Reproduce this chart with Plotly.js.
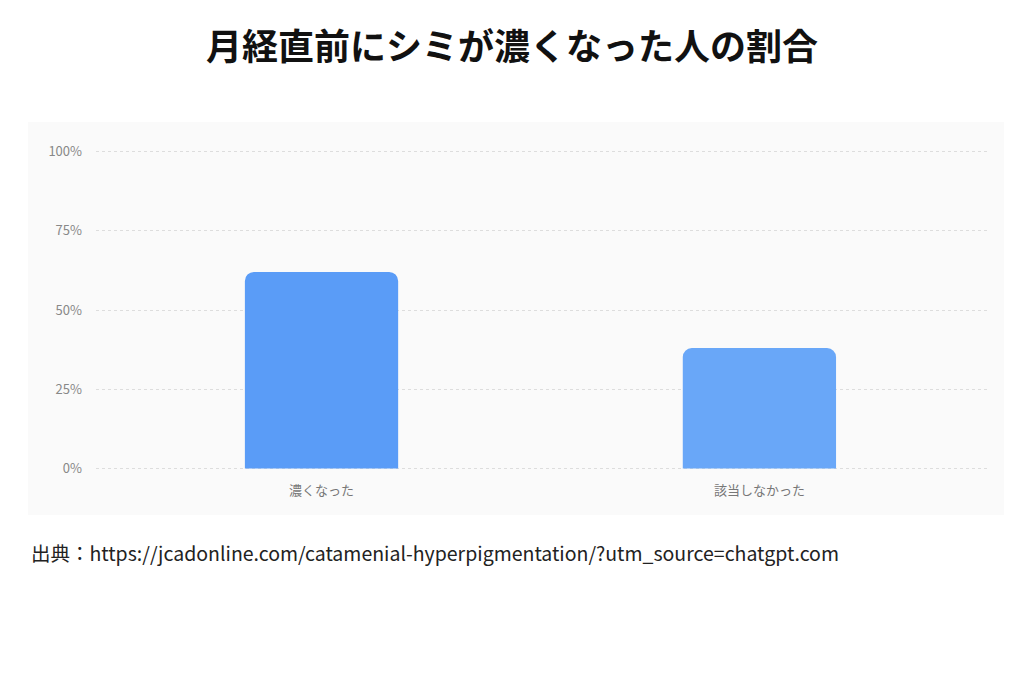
<!DOCTYPE html>
<html>
<head>
<meta charset="utf-8">
<script src="https://cdn.plot.ly/plotly-3.0.1.min.js"></script>
<style>
html, body {margin:0; padding:0; background:#fff;}
#chart {width:1024px; height:683px;}
</style>
</head>
<body>
<div id="chart"></div>
<script>
// Chart data.
var categories = ['濃くなった', '該当しなかった'];
var shares = [62, 38];
var yTicks = [0, 25, 50, 75, 100];
var yTickLabels = ['0%', '25%', '50%', '75%', '100%'];
var chartTitle = '月経直前にシミが濃くなった人の割合';
var sourceText = '出典：https://jcadonline.com/catamenial-hyperpigmentation/?utm_source=chatgpt.com';

var barColors = ['#5a9cf7', '#69a7f8'];
var jpFont = '"Noto Sans CJK JP", "Noto Sans", sans-serif';

var graph_data = [{
type: 'bar',
x: categories,
y: shares,
width: 0.35,
marker: {
color: barColors,
cornerradius: 9,
line: {width: 0}
},
hoverinfo: 'x+y',
showlegend: false
}];

// Plot area: x 96..988, y 150..470 px (range padded so 0 and 100 gridlines show).
var layout = {
width: 1024,
height: 683,
paper_bgcolor: '#ffffff',
plot_bgcolor: 'rgba(0,0,0,0)',
margin: {l: 96, r: 36, t: 150, b: 213, pad: 0},
font: {family: jpFont, color: '#888888', size: 12},
title: {
text: '<b>' + chartTitle + '</b>',
font: {family: jpFont, size: 36, color: '#111111'},
x: 0.5,
xref: 'container',
xanchor: 'center',
y: 1 - 47/683,
yref: 'container',
yanchor: 'middle'
},
xaxis: {
type: 'category',
range: [-0.515, 1.522],
showgrid: false,
zeroline: false,
showline: false,
ticks: '',
ticklabelstandoff: 11,
tickfont: {family: jpFont, size: 13, color: '#777777'}
},
yaxis: {
range: [-0.5, 100.5],
tickvals: yTicks,
ticktext: yTickLabels,
showgrid: true,
gridcolor: '#dddddd',
gridwidth: 1,
griddash: '3px,3px',
zeroline: false,
showline: false,
ticks: '',
ticklabelstandoff: 13,
tickfont: {family: jpFont, size: 13, color: '#888888'}
},
shapes: [{
type: 'rect',
xref: 'paper', yref: 'paper',
x0: (28-96)/892, x1: (1004-96)/892,
y0: (470-515)/320, y1: (470-122)/320,
fillcolor: '#fafafa',
line: {width: 0},
layer: 'below'
}],
annotations: [{
text: sourceText,
xref: 'paper', yref: 'paper',
x: (29-96)/892, y: (470-552)/320,
xanchor: 'left', yanchor: 'middle',
showarrow: false,
font: {family: jpFont, size: 19.5, color: '#222222'}
}]
};

var config = {displayModeBar: false, responsive: false};
Plotly.newPlot('chart', graph_data, layout, config);
</script>
</body>
</html>
